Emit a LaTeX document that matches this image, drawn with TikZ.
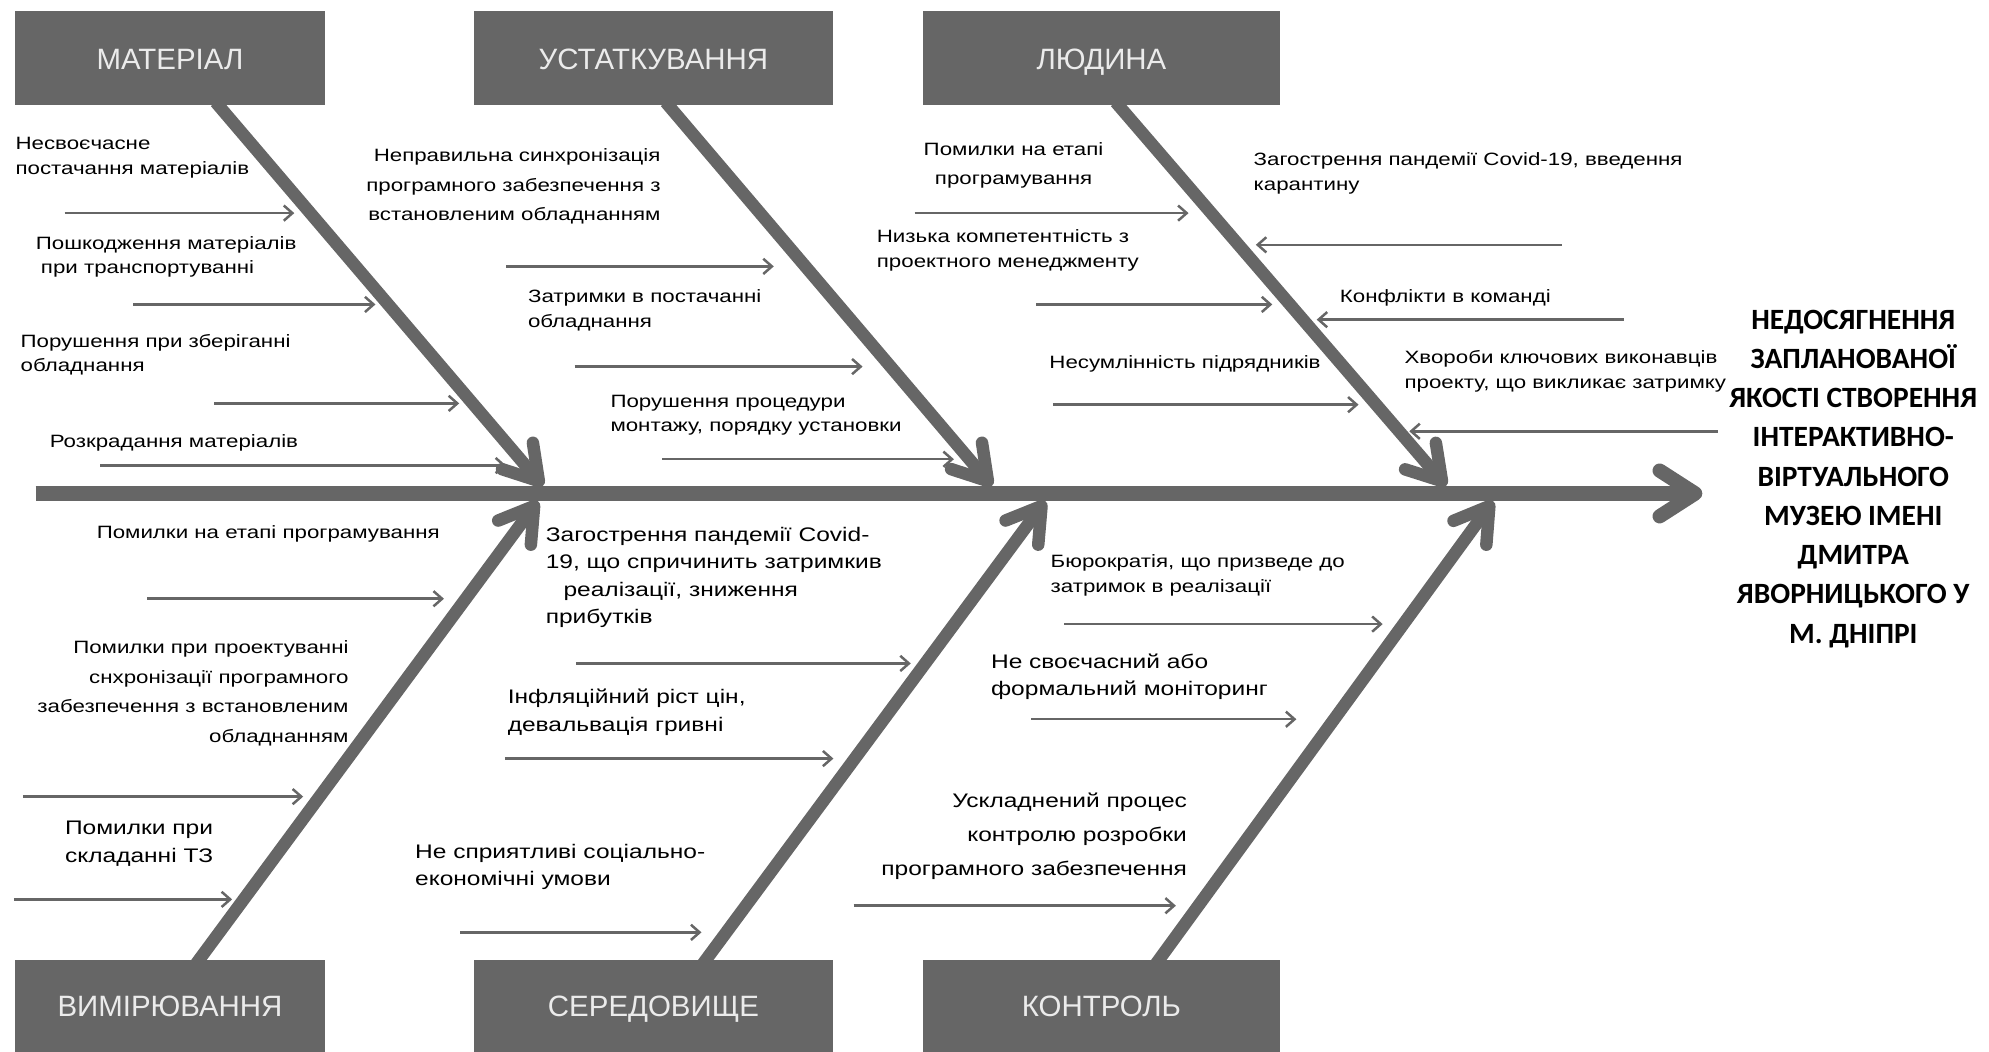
\documentclass[tikz,border=0pt]{standalone}
\usepackage{fontspec}
\setmainfont{Liberation Sans}
\newfontfamily\causefont[FakeStretch=1.25]{Liberation Sans}
\newfontfamily\catfont{Liberation Sans}
\newfontfamily\effectfont{Carlito}
\usetikzlibrary{arrows.meta,positioning,backgrounds}
\definecolor{fishgray}{RGB}{102,102,102}

\begin{document}
\begin{tikzpicture}[x=0.025cm,y=-0.025cm,
  cat node/.style={rectangle,fill=fishgray,text=white!92!black,minimum width=6.1cm,minimum height=1.85cm,inner sep=0pt,text height=12pt,text depth=0pt,font=\catfont\fontsize{16.5}{18}\selectfont},
  cause node/.style={inner sep=0pt,anchor=north west,align=left,text=black,font=\causefont\fontsize{10}{13.8}\selectfont},
  wide cause/.style={cause node,font=\causefont\fontsize{10}{16.5}\selectfont},
  big cause/.style={cause node,font=\causefont\fontsize{11}{15.5}\selectfont},
  effect node/.style={align=center,inner sep=0pt,text=black,font=\effectfont\bfseries\fontsize{16.5}{22}\selectfont},
  spine/.style={draw=fishgray,line width=8pt,-{Straight Barb[round,length=7mm,width=9mm]}},
  bone/.style={draw=fishgray,line width=7pt,-{Straight Barb[round,length=6.5mm,width=8mm]}},
  twig/.style={draw=fishgray,line width=1.4pt,-{Straight Barb[length=1.7mm,width=3mm]}}]

\useasboundingbox (0,0) rectangle (1568,829);

% Kategorien oben und unten
  \node[cat node] (mat) at (134,46) {МАТЕРІАЛ};
  \node[cat node,minimum width=7.075cm,right=2.925cm of mat] (ust) {УСТАТКУВАННЯ}; % right=... of ... aus positioning
  \node[cat node,minimum width=7.05cm,right=1.75cm of ust] (lud) {ЛЮДИНА};
  \node[cat node,minimum height=1.8cm] (vym) at (134,793) {ВИМІРЮВАННЯ};
  \node[cat node,minimum width=7.075cm,minimum height=1.8cm,right=2.925cm of vym] (ser) {СЕРЕДОВИЩЕ};
  \node[cat node,minimum width=7.05cm,minimum height=1.8cm,right=1.75cm of ser] (kon) {КОНТРОЛЬ};

% Wirkung rechts
  \node[effect node,anchor=north] (eff) at (1461,244) {НЕДОСЯГНЕННЯ\\ЗАПЛАНОВАНОЇ\\ЯКОСТІ СТВОРЕННЯ\\ІНТЕРАКТИВНО-\\ВІРТУАЛЬНОГО\\МУЗЕЮ ІМЕНІ\\ДМИТРА\\ЯВОРНИЦЬКОГО У\\М. ДНІПРІ};

% Hauptgräte
  \coordinate (s0) at (28,389);
  \coordinate (kopf) at (1342,389);
  \draw[spine] (s0) -- (kopf);

% Gräte zu den Kategorien, hinter den Kästen
  \coordinate (k1) at (428,383);
  \coordinate (k2) at (782,383);
  \coordinate (k3) at (1140,383);
  \coordinate (k4) at (424,395);
  \coordinate (k5) at (824,395);
  \coordinate (k6) at (1177,395);
  \begin{scope}[on background layer]
    \draw[bone] ([xshift=0.9cm,yshift=2pt]mat.south) -- (k1);
    \draw[bone] ([xshift=0.24cm,yshift=2pt]ust.south) -- (k2);
    \draw[bone] ([xshift=0.28cm,yshift=2pt]lud.south) -- (k3);
    \draw[bone] ([xshift=0.52cm,yshift=-2pt]vym.north) -- (k4);
    \draw[bone] ([xshift=0.98cm,yshift=-2pt]ser.north) -- (k5);
    \draw[bone] ([xshift=1.08cm,yshift=-2pt]kon.north) -- (k6);
  \end{scope}

% kleine Pfeile: Nummer / Anfang x / Spitze x / y
  \foreach \n/\xa/\xb/\y in {11/51/232/168, 12/105/296/240, 13/169/362/318, 14/79/399/367,
      21/399/610/210, 22/453/680/289, 23/522/752/362,
      31/721/937/168, 32/817/1003/240, 33/830/1071/319,
      34/1231/990/193, 35/1280/1038/252, 36/1354/1111/340,
      41/116/350/472, 42/18/239/628, 43/11/183/709,
      51/454/718/523, 52/398/657/598, 53/363/553/735,
      61/839/1090/492, 62/813/1022/567, 63/673/927/714}
  {
    \coordinate (t\n) at (\xa,\y);
    \coordinate (h\n) at (\xb,\y);
    \draw[twig] (t\n) -- (h\n);
  }

% Ursachen
  \node[cause node] (l11) at (12,108) {Несвоєчасне\\постачання матеріалів};
  \node[cause node] (l12) at (28,186) {Пошкодження матеріалів\\\hspace*{1mm}при транспортуванні};
  \node[cause node] (l13) at (16,263) {Порушення при зберіганні\\обладнання};
  \node[cause node] (l14) at (39,342) {Розкрадання матеріалів};
  \node[wide cause,anchor=north east,align=right] (l21) at (521,117) {Неправильна синхронізація\\програмного забезпечення з\\встановленим обладнанням};
  \node[cause node] (l22) at (416,228) {Затримки в постачанні\\обладнання};
  \node[cause node] (l23) at (481,311) {Порушення процедури\\монтажу, порядку установки};
  \node[wide cause,anchor=north,align=center] (l31) at (799,112) {Помилки на етапі\\програмування};
  \node[cause node] (l32) at (691,181) {Низька компетентність з\\проектного менеджменту};
  \node[cause node] (l33) at (827,280) {Несумлінність підрядників};
  \node[cause node] (l34) at (988,120) {Загострення пандемії Covid-19, введення\\карантину};
  \node[cause node] (l35) at (1056,228) {Конфлікти в команді};
  \node[cause node] (l36) at (1107,276) {Хвороби ключових виконавців\\проекту, що викликає затримку};
  \node[cause node] (l41) at (76,414) {Помилки на етапі програмування};
  \node[wide cause,anchor=north east,align=right] (l42) at (275,505) {Помилки при проектуванні\\снхронізації програмного\\забезпечення з встановленим\\обладнанням};
  \node[big cause] (l43) at (51,647) {Помилки при\\складанні ТЗ};
  \node[big cause] (l51) at (430,415) {Загострення пандемії Covid-\\19, що спричинить затримкив\\\hspace*{0.35cm}реалізації, зниження\\прибутків};
  \node[big cause] (l52) at (400,543) {Інфляційний ріст цін,\\девальвація гривні};
  \node[big cause] (l53) at (327,665) {Не сприятливі соціально-\\економічні умови};
  \node[cause node] (l61) at (828,437) {Бюрократія, що призведе до\\затримок в реалізації};
  \node[big cause] (l62) at (781,515) {Не своєчасний або\\формальний моніторинг};
  \node[big cause,anchor=north east,align=right,font=\causefont\fontsize{11}{19}\selectfont] (l63) at (936,625) {Ускладнений процес\\контролю розробки\\програмного забезпечення};
\end{tikzpicture}
\end{document}
